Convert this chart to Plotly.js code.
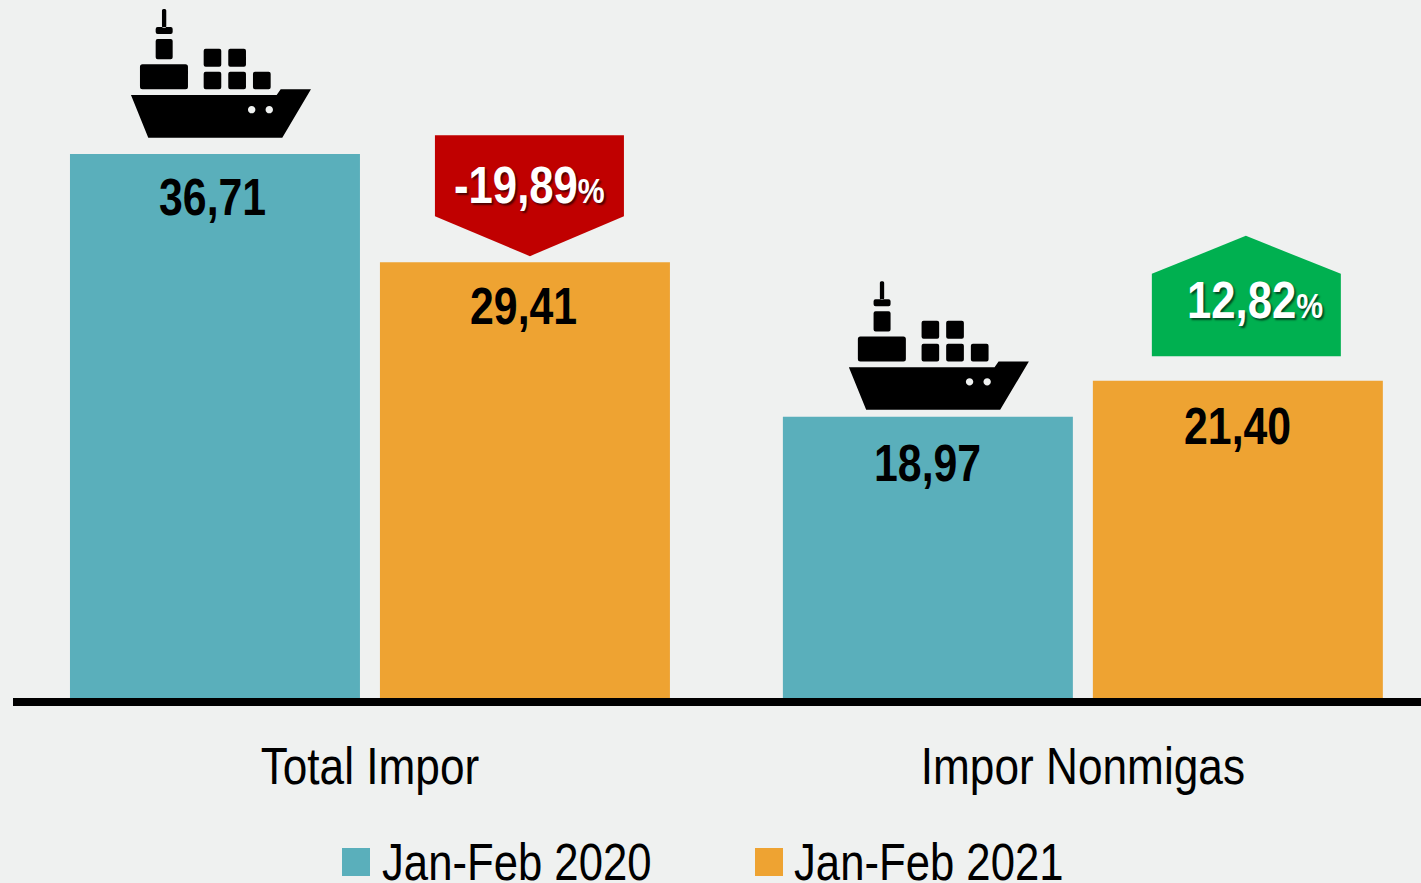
<!DOCTYPE html>
<html><head><meta charset="utf-8">
<script src="https://cdn.plot.ly/plotly-3.0.1.min.js"></script>
<style>
html,body{margin:0;padding:0;background:#EFF1F0;overflow:hidden}
.annotation-text{transform-box:fill-box;transform-origin:center;scale:.84 1}
</style>
</head><body><div id="chart" style="width:1421px;height:883px"></div>
<script>
const categories = ['Total Impor', 'Impor Nonmigas'];
const seriesNames = ['Jan-Feb 2020', 'Jan-Feb 2021'];
const values2020 = [36.71, 18.97];
const values2021 = [29.41, 21.40];
const changes = ['-19,89', '12,82'];

const TEAL = '#5AAFBB', ORANGE = '#EEA332', RED = '#C00000', GREEN = '#00B050';
const FONT = '"Liberation Sans", Arial, sans-serif';
const OFFSET = 0.2174;
const fmt = v => v.toFixed(2).replace('.', ',');

const rr = (x0, x1, y0, y1, r = 2) =>
  `M${x0 + r} ${y0}L${x1 - r} ${y0}Q${x1} ${y0} ${x1} ${y0 + r}L${x1} ${y1 - r}Q${x1} ${y1} ${x1 - r} ${y1}` +
  `L${x0 + r} ${y1}Q${x0} ${y1} ${x0} ${y1 - r}L${x0} ${y0 + r}Q${x0} ${y0} ${x0 + r} ${y0}Z`;
const circ = (cx, cy, r) => {
  const k = r * 0.5523;
  return `M${cx - r} ${cy}C${cx - r} ${cy + k} ${cx - k} ${cy + r} ${cx} ${cy + r}` +
    `C${cx + k} ${cy + r} ${cx + r} ${cy + k} ${cx + r} ${cy}` +
    `C${cx + r} ${cy - k} ${cx + k} ${cy - r} ${cx} ${cy - r}` +
    `C${cx - k} ${cy - r} ${cx - r} ${cy - k} ${cx - r} ${cy}Z`;
};
// ship drawn in pixels upward from its anchor (bottom of the hull, centred on the bar)
function shipPath(g) {
  const p = (x0, x1, y0, y1, r) => rr(x0, x1, y0 + g, y1 + g, r);
  return `M-84 ${g + 42.7}L61.7 ${g + 42.7}L65.7 ${g + 48.4}L96 ${g + 48.4}L67.3 ${g}L-66.7 ${g}Z` +
    circ(36.7, g + 28, 3.7) + circ(54.3, g + 28, 3.7) +
    p(-75, -27, 48.4, 73.4, 2.5) + p(-59.3, -42.3, 78.4, 98.7) + p(-59.3, -42.3, 103.7, 110.7) +
    p(-53, -48.7, 110, 128.7, 1.5) +
    p(-11.3, 6.3, 48.4, 66) + p(-11.3, 6.3, 71, 89) +
    p(13.3, 31, 48.4, 66) + p(13.3, 31, 71, 89) + p(38, 55.7, 48.4, 66);
}
const shipShape = (cat, yVal, gap, dx) => ({
  type: 'path', xref: 'x', yref: 'y', xsizemode: 'pixel', ysizemode: 'pixel',
  xanchor: cat - OFFSET + dx, yanchor: yVal, path: shipPath(gap),
  fillcolor: '#000', line: {width: 0}, layer: 'above'
});
const downTag = (cat, yVal) => ({
  type: 'path', xref: 'x', yref: 'y', xsizemode: 'pixel', ysizemode: 'pixel',
  xanchor: cat + OFFSET, yanchor: yVal,
  path: 'M-90 127L99 127L99 46L5 6L-90 46Z', fillcolor: RED, line: {width: 0}
});
const upTag = (cat, yVal) => ({
  type: 'path', xref: 'x', yref: 'y', xsizemode: 'pixel', ysizemode: 'pixel',
  xanchor: cat + OFFSET, yanchor: yVal,
  path: 'M-86 24.5L103 24.5L103 107L8 145L-86 107Z', fillcolor: GREEN, line: {width: 0}
});
const swatch = (x0, color) => ({
  type: 'rect', xref: 'paper', yref: 'paper', xsizemode: 'pixel', ysizemode: 'pixel',
  xanchor: 0, yanchor: 0, x0: x0 - 13, x1: x0 - 13 + 28, y0: -150, y1: -178,
  fillcolor: color, line: {width: 0}
});
const legendText = (x, t) => ({
  xref: 'paper', yref: 'paper', x: 0, y: 0, xshift: x - 13, yshift: -163, xanchor: 'center', yanchor: 'middle',
  text: t, showarrow: false, font: {family: FONT, size: 52, color: '#000'}
});
const valueLabel = (cat, off, v, xshift, yshift) => ({
  x: cat + off, y: v, yref: 'y', xref: 'x', yanchor: 'top', yshift, xshift,
  text: fmt(v), showarrow: false,
  font: {family: FONT, size: 51, color: '#000', weight: 700}
});
const changeLabel = (cat, v, t, yshift, xshift) => ({
  x: cat + OFFSET, y: v, xref: 'x', yref: 'y', yanchor: 'middle', yshift, xshift, showarrow: false,
  text: `${t}<span style="font-size:36px">%</span>`,
  font: {family: FONT, size: 52, color: '#fff', weight: 700, shadow: '2px 2px 2px rgba(0,0,0,0.6)'}
});

const traces = [
  {type: 'bar', name: seriesNames[0], x: [0, 1], y: values2020, marker: {color: TEAL}, hoverinfo: 'skip'},
  {type: 'bar', name: seriesNames[1], x: [0, 1], y: values2021, marker: {color: ORANGE}, hoverinfo: 'skip'}
];
const layout = {
  width: 1421, height: 883,
  margin: {l: 13, r: 0, t: 0, b: 185, pad: 0},
  paper_bgcolor: '#EFF1F0', plot_bgcolor: '#EFF1F0',
  barmode: 'group', bargap: 0.1304, bargroupgap: 0.0645, showlegend: false,
  xaxis: {
    range: [-0.5007, 1.4743], tickmode: 'array', tickvals: [0, 1], ticktext: categories,
    showgrid: false, zeroline: false, showline: true, linecolor: '#000', linewidth: 8, ticks: '',
    tickfont: {family: FONT, size: 52, color: '#000'}, ticklabelstandoff: 16, fixedrange: true
  },
  yaxis: {range: [0, 47.1], visible: false, fixedrange: true},
  shapes: [
    shipShape(0, values2020[0], 16.3, 0),
    shipShape(1, values2020[1], 7, 0.007),
    downTag(0, values2021[0]), upTag(1, values2021[1]),
    swatch(342, TEAL), swatch(755, ORANGE)
  ],
  annotations: [
    valueLabel(0, -OFFSET, values2020[0], -2, -12), valueLabel(0, OFFSET, values2021[0], -1.5, -13),
    valueLabel(1, -OFFSET, values2020[1], 0, -15), valueLabel(1, OFFSET, values2021[1], 0, -14),
    changeLabel(0, values2021[0], changes[0], 78, 4.5),
    changeLabel(1, values2021[1], changes[1], 81.5, 17.5),
    legendText(516.5, seriesNames[0]), legendText(928.5, seriesNames[1])
  ]
};
Plotly.newPlot('chart', traces, layout, {displayModeBar: false, staticPlot: true}).then(gd => {
  gd.querySelectorAll('.xtick text').forEach(t => {
    t.setAttribute('textLength', (t.getComputedTextLength() * 0.85).toFixed(1));
    t.setAttribute('lengthAdjust', 'spacingAndGlyphs');
  });
});
</script></body></html>
